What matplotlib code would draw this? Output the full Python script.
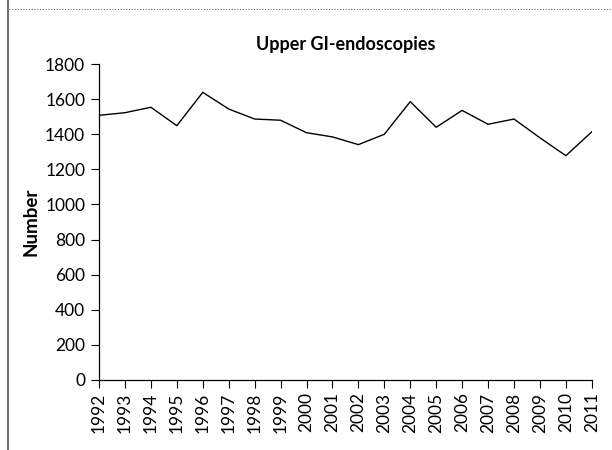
import matplotlib
matplotlib.use("Agg")
import matplotlib.pyplot as plt
from matplotlib.lines import Line2D

plt.rcParams['font.family'] = ['Lato', 'DejaVu Sans']

# Data
years = list(range(1992, 2012))
counts = [1508, 1523, 1554, 1449, 1639, 1544, 1487, 1480, 1409, 1385,
          1341, 1400, 1586, 1440, 1536, 1457, 1487, 1380, 1278, 1414]
yticks = [0, 200, 400, 600, 800, 1000, 1200, 1400, 1600, 1800]

fig = plt.figure(figsize=(6.12, 4.5), dpi=100)
ax = fig.add_axes([0.1618, 0.1556, 0.8052, 0.702])

ax.plot(years, counts, color='black', linewidth=1.0)

ax.set_xlim(1992, 2011)
ax.set_ylim(0, 1800)
ax.set_xticks(years)
ax.set_xticklabels([str(y) for y in years], rotation=90, fontsize=12.5)
ax.set_yticks(yticks)
ax.set_yticklabels([str(v) for v in yticks], fontsize=12.5)
ax.tick_params(axis='both', direction='out', length=6, width=0.8, color='black')
ax.tick_params(axis='y', pad=4)
ax.tick_params(axis='x', pad=3)

for side in ['top', 'right']:
    ax.spines[side].set_visible(False)
for side in ['left', 'bottom']:
    ax.spines[side].set_linewidth(0.9)

ax.set_title('Upper GI-endoscopies', fontsize=13, fontweight='bold', pad=10)
ax.set_ylabel('Number', fontsize=13.5, fontweight='bold')
ax.yaxis.set_label_coords(-0.12, 0.5)

# page frame: left border and dotted top rule
fig.add_artist(Line2D([8 / 612, 8 / 612], [0, 1], transform=fig.transFigure,
                      color='#555555', linewidth=1.2))
fig.add_artist(Line2D([9 / 612, 1], [1 - 9 / 450, 1 - 9 / 450], transform=fig.transFigure,
                      color='#666666', linewidth=0.8, linestyle=(0, (1, 1.5))))

fig.savefig('out.png', dpi=100)
